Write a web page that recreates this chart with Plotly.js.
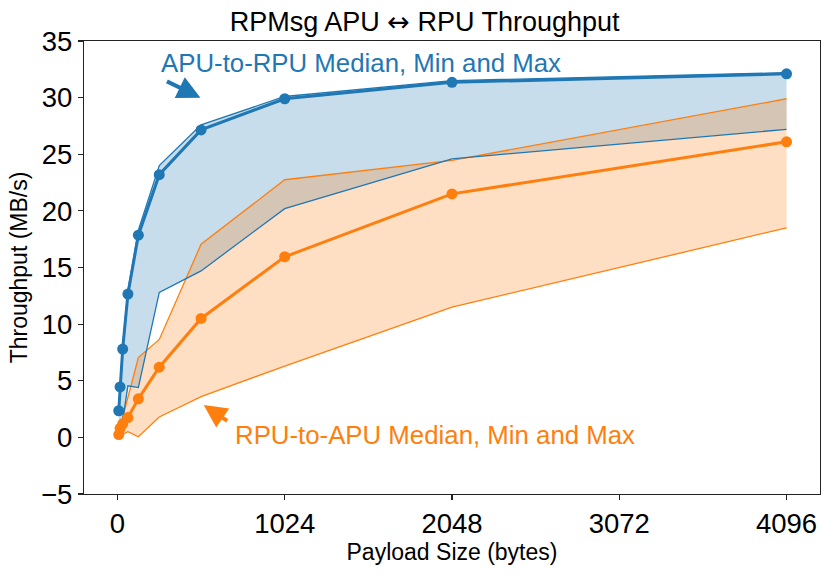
<!DOCTYPE html>
<html>
<head>
<meta charset="utf-8">
<script src="https://cdn.plot.ly/plotly-3.0.1.min.js"></script>
<style>html,body{margin:0;padding:0;background:#fff;}#chart{width:831px;height:574px;}</style>
</head>
<body>
<div id="chart"></div>
<script>
// Payload sizes (bytes)
const payloadSizes = [8, 16, 32, 64, 128, 256, 512, 1024, 2048, 4096];

// APU-to-RPU throughput (MB/s)
const apuMedian = [2.35, 4.45, 7.8, 12.65, 17.85, 23.2, 27.15, 29.9, 31.35, 32.1];
const apuMax    = [2.6, 4.7, 8.1, 13.0, 18.3, 24.0, 27.6, 30.1, 31.5, 32.2];
const apuMin    = [0.4, 0.9, 1.5, 4.55, 4.4, 12.8, 14.7, 20.2, 24.6, 27.2];

// RPU-to-APU throughput (MB/s)
const rpuMedian = [0.25, 0.8, 1.2, 1.75, 3.4, 6.2, 10.5, 15.95, 21.5, 26.1];
const rpuMax    = [0.45, 0.9, 1.8, 3.6, 7.05, 8.65, 17.05, 22.75, 24.45, 29.9];
const rpuMin    = [0.1, 0.15, 0.3, 0.5, 0.05, 1.8, 3.6, 6.3, 11.5, 18.5];

const xTicks = [0, 1024, 2048, 3072, 4096];
const yTicks = [-5, 0, 5, 10, 15, 20, 25, 30, 35];

const BLUE = '#1f77b4', ORANGE = '#ff7f0e';
const FONT = '"Liberation Sans", Arial, Helvetica, sans-serif';

const edge = (y, c) => ({x: payloadSizes, y: y, mode: 'lines', line: {color: c, width: 1.3}, showlegend: false, hoverinfo: 'skip'});

const traces = [
  // bands
  {x: payloadSizes, y: apuMax, mode: 'lines', line: {width: 0, color: BLUE}, showlegend: false, hoverinfo: 'skip'},
  {x: payloadSizes, y: apuMin, mode: 'lines', line: {width: 0, color: BLUE}, fill: 'tonexty', fillcolor: 'rgba(31,119,180,0.25)', showlegend: false, hoverinfo: 'skip'},
  {x: payloadSizes, y: rpuMax, mode: 'lines', line: {width: 0, color: ORANGE}, showlegend: false, hoverinfo: 'skip'},
  {x: payloadSizes, y: rpuMin, mode: 'lines', line: {width: 0, color: ORANGE}, fill: 'tonexty', fillcolor: 'rgba(255,127,14,0.25)', showlegend: false, hoverinfo: 'skip'},
  // band edges
  edge(rpuMax, ORANGE), edge(rpuMin, ORANGE),
  edge(apuMax, BLUE), edge(apuMin, BLUE),
  // medians
  {x: payloadSizes, y: rpuMedian, mode: 'lines+markers', line: {color: ORANGE, width: 3}, marker: {color: ORANGE, size: 11}, showlegend: false},
  {x: payloadSizes, y: apuMedian, mode: 'lines+markers', line: {color: BLUE, width: 3}, marker: {color: BLUE, size: 11}, showlegend: false}
];

const layout = {
  width: 831, height: 574,
  margin: {l: 84, r: 11, t: 41, b: 80},
  paper_bgcolor: '#fff', plot_bgcolor: '#fff',
  font: {family: FONT, color: '#000'},
  showlegend: false,
  title: {text: 'RPMsg APU <span style="font-family:DejaVu Sans">\u2194</span> RPU Throughput', font: {size: 27, color: '#000', family: FONT}, x: 0.511, xanchor: 'center', y: 0.962, yanchor: 'middle'},
  xaxis: {
    range: [-204.8, 4300.8], tickvals: xTicks, ticktext: xTicks.map(String),
    showgrid: false, zeroline: false, showline: true, mirror: true, linecolor: '#222', linewidth: 1.2,
    ticks: 'outside', ticklen: 5, tickwidth: 1.2, tickcolor: '#222',
    tickfont: {size: 27.5, family: FONT, color: '#000'},
    title: {text: 'Payload Size (bytes)', font: {size: 23, family: FONT, color: '#000'}, standoff: 4}
  },
  yaxis: {
    range: [-5, 35], tickvals: yTicks, ticktext: yTicks.map(v => v < 0 ? '\u2212' + Math.abs(v) : String(v)),
    showgrid: false, zeroline: false, showline: true, mirror: true, linecolor: '#222', linewidth: 1.2,
    ticks: 'outside', ticklen: 5, tickwidth: 1.2, tickcolor: '#222',
    tickfont: {size: 27.5, family: FONT, color: '#000'},
    title: {text: 'Throughput (MB/s)', font: {size: 23, family: FONT, color: '#000'}, standoff: 6}
  },
  annotations: [
    {x: 255, y: 33.1, xref: 'x', yref: 'y', text: 'APU-to-RPU Median, Min and Max', showarrow: false, xanchor: 'left', yanchor: 'middle', font: {size: 25.8, color: BLUE, family: FONT}},
    {x: 508, y: 30.0, xref: 'x', yref: 'y', text: '', showarrow: true, ax: -35, ay: -17, arrowcolor: BLUE, arrowwidth: 4, arrowhead: 2, arrowsize: 1.15, standoff: 0},
    {x: 705, y: 0.25, xref: 'x', yref: 'y', text: 'RPU-to-APU Median, Min and Max', showarrow: false, xanchor: 'left', yanchor: 'middle', font: {size: 25.8, color: ORANGE, family: FONT}},
    {x: 528, y: 2.86, xref: 'x', yref: 'y', text: '', showarrow: true, ax: 25, ay: 17, arrowcolor: ORANGE, arrowwidth: 4, arrowhead: 2, arrowsize: 1.15, standoff: 0}
  ]
};

Plotly.newPlot('chart', traces, layout, {displayModeBar: false, staticPlot: true});
</script>
</body>
</html>
